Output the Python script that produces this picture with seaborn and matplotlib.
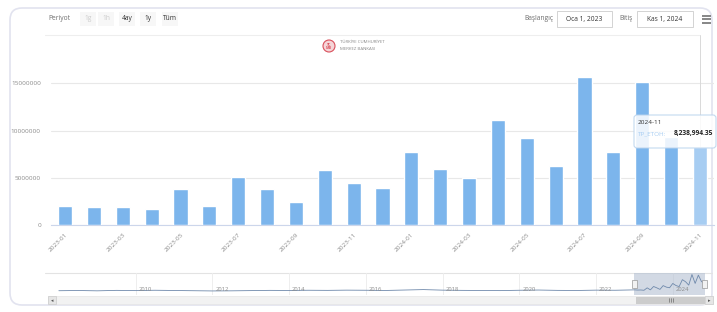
import numpy as np
import pandas as pd
import matplotlib
matplotlib.use("Agg")
import matplotlib.pyplot as plt
import matplotlib.transforms as mtransforms
from matplotlib.patches import FancyBboxPatch, Rectangle, Circle
import seaborn as sns

# =========================
# DATA
# =========================
months = [
    "2023-01", "2023-02", "2023-03", "2023-04", "2023-05", "2023-06",
    "2023-07", "2023-08", "2023-09", "2023-10", "2023-11", "2023-12",
    "2024-01", "2024-02", "2024-03", "2024-04", "2024-05", "2024-06",
    "2024-07", "2024-08", "2024-09", "2024-10", "2024-11",
]
values = [
    2050000, 1870000, 1950000, 1700000, 3850000, 2050000,
    5050000, 3850000, 2470000, 5830000, 4480000, 3920000,
    7730000, 5900000, 4950000, 11100000, 9250000, 6250000,
    15650000, 7770000, 15100000, 9300000, 8238994.35,
]
series_name = "TP_ETOH"
y_ticks = [0, 5000000, 10000000, 15000000]

# navigator: half-yearly history 2008-2022 (rough read of the small line)
nav_hist_start = 2008
nav_hist = [
    1300000, 1500000, 1200000, 1600000, 1400000, 1700000, 1500000, 1300000,
    1100000, 1200000, 1400000, 1600000, 1500000, 1700000, 1600000, 1800000,
    1700000, 1500000, 1900000, 2300000, 1800000, 1600000, 1500000, 1400000,
    1700000, 1900000, 1600000, 1500000, 1800000, 1700000,
]
nav_year_ticks = [2010, 2012, 2014, 2016, 2018, 2020, 2022, 2024]

range_buttons = ["1g", "1h", "4ay", "1y", "Tüm"]
start_label = "Oca 1, 2023"
end_label = "Kas 1, 2024"

df = pd.DataFrame({"month": months, "value": values})

# =========================
# FIGURE
# =========================
sns.set_theme(style="white")
plt.rcParams["font.family"] = ["Open Sans", "DejaVu Sans"]

W, H = 717, 312
fig = plt.figure(figsize=(W / 100, H / 100), dpi=100)
fig.patch.set_facecolor("white")

# background layer in pixel coords
bg = fig.add_axes([0, 0, 1, 1], zorder=-5)
bg.set_xlim(0, W)
bg.set_ylim(H, 0)
bg.axis("off")

bg.add_patch(FancyBboxPatch((10, 8), 702, 297, boxstyle="round,pad=0,rounding_size=12",
                            facecolor="white", edgecolor="#e2e3ef", lw=1.2))
bg.plot([45, 699], [35, 35], color="#eeeeee", lw=0.8)

# header: range selector
txt_grey = "#6e6e6e"
bg.text(48, 19, "Periyot", fontsize=4.8, color=txt_grey, va="center")
btn_x = [88, 106, 127, 148, 170]
for i, (lbl, bx) in enumerate(zip(range_buttons, btn_x)):
    disabled = i < 2
    bg.add_patch(Rectangle((bx - 8, 12), 16, 14, facecolor="#f7f7f7", edgecolor="none"))
    bg.text(bx, 19, lbl, fontsize=4.8, ha="center", va="center",
            color="#cccccc" if disabled else "#333333")

# header: date inputs
bg.text(553, 19, "Başlangıç", fontsize=4.8, color=txt_grey, ha="right", va="center")
bg.add_patch(Rectangle((557, 11), 55, 16, facecolor="white", edgecolor="#cccccc", lw=0.6))
bg.text(584.5, 19, start_label, fontsize=4.8, color="#333333", ha="center", va="center")
bg.text(626, 19, "Bitiş", fontsize=4.8, color=txt_grey, ha="center", va="center")
bg.add_patch(Rectangle((637, 11), 56, 16, facecolor="white", edgecolor="#cccccc", lw=0.6))
bg.text(665, 19, end_label, fontsize=4.8, color="#333333", ha="center", va="center")
for yy in (15.5, 19, 22.5):
    bg.plot([702, 711], [yy, yy], color="#666666", lw=1.1, solid_capstyle="butt")

# logo
bg.add_patch(Circle((329, 46), 6, facecolor="#f5d5d8", edgecolor="#d9505c", lw=0.8))
bg.text(329, 46.5, "TC\nMB", fontsize=2.6, color="#d9505c", ha="center", va="center",
        fontweight="bold", linespacing=0.8)
bg.text(340, 42, "TÜRKİYE CUMHURİYET", fontsize=3.2, color="#8a8a8a", va="center")
bg.text(340, 49, "MERKEZ BANKASI", fontsize=3.2, color="#8a8a8a", va="center")

# =========================
# MAIN BAR CHART
# =========================
ax_left, ax_right = 50.6, 714.4
ax_top, ax_bottom = 55, 225
ax = fig.add_axes([ax_left / W, 1 - ax_bottom / H,
                   (ax_right - ax_left) / W, (ax_bottom - ax_top) / H])
ax.patch.set_alpha(0)

sns.barplot(data=df, x="month", y="value", color="#7cb5ec", width=0.49,
            saturation=1, ax=ax, zorder=3)
# hovered bar lighter
ax.patches[-1].set_facecolor("#a7cdf2")

ax.set_ylim(0, 18000000)
ax.set_yticks(y_ticks)
ax.set_yticklabels([str(v) for v in y_ticks])
ax.set_xticks(range(0, len(months), 2))
ax.set_xticklabels(months[::2], rotation=45, ha="right", rotation_mode="anchor")
ax.tick_params(axis="y", labelsize=4.6, labelcolor="#8a8a8a", length=0, pad=7)
ax.tick_params(axis="x", labelsize=4.6, labelcolor="#8a8a8a", length=0, pad=5)
ax.set_xlabel("")
ax.set_ylabel("")
ax.yaxis.grid(True, color="#e8e8e8", lw=0.8, zorder=0)
for s in ("top", "right", "left"):
    ax.spines[s].set_visible(False)
ax.spines["bottom"].set_color("#ccd6eb")
ax.spines["bottom"].set_linewidth(0.8)

# crosshair on hovered point
ax.axvline(len(months) - 1, ymin=0, ymax=(ax_bottom - 35) / (ax_bottom - ax_top),
           color="#d9d9d9", lw=0.7, clip_on=False, zorder=1)

# =========================
# NAVIGATOR
# =========================
nav_l, nav_r, nav_t, nav_b = 55, 705, 273, 295
nav = fig.add_axes([nav_l / W, 1 - nav_b / H, (nav_r - nav_l) / W, (nav_b - nav_t) / H])
nav.patch.set_alpha(0)
hist_x = [nav_hist_start + 0.5 * i for i in range(len(nav_hist))]
recent_x = [2023 + i / 12 for i in range(len(values))]
nav_df = pd.DataFrame({"t": hist_x + recent_x, "v": nav_hist + values})
sns.lineplot(data=nav_df, x="t", y="v", color="#6f89ab", lw=0.6, ax=nav, zorder=3)
nav.set_xlim(2007.9, 2024.84)
nav.set_ylim(-2500000, 17000000)
nav.axvspan(recent_x[0], recent_x[-1], color="#b4c0d3", alpha=0.6, zorder=2, lw=0)
for yr in nav_year_ticks:
    nav.axvline(yr, color="#eeeeee", lw=0.7, zorder=1)
    nav.annotate(str(yr), (yr, 0.24), xycoords=("data", "axes fraction"),
                 xytext=(3, 0), textcoords="offset pixels", fontsize=4.2,
                 color="#8a8a8a", va="center", ha="left", zorder=4)
blend = mtransforms.blended_transform_factory(nav.transData, nav.transAxes)
for hx in (recent_x[0], recent_x[-1]):
    nav.add_patch(Rectangle((hx - 0.06, 0.3), 0.12, 0.4, transform=blend,
                            facecolor="#f2f2f2", edgecolor="#999999", lw=0.5, zorder=5, clip_on=False))
nav.axis("off")
bg.plot([45, 712], [272.5, 272.5], color="#e3e3e3", lw=0.8)

# scrollbar
bg.add_patch(Rectangle((48, 296), 665, 8, facecolor="#f2f2f2", edgecolor="#e6e6e6", lw=0.5))
bg.add_patch(Rectangle((48, 296), 8, 8, facecolor="#e6e6e6", edgecolor="#cccccc", lw=0.5))
bg.text(52, 300.3, "◂", fontsize=3.5, color="#555555", ha="center", va="center")
bg.add_patch(Rectangle((705, 296), 8, 8, facecolor="#e6e6e6", edgecolor="#cccccc", lw=0.5))
bg.text(709, 300.3, "▸", fontsize=3.5, color="#555555", ha="center", va="center")
bg.add_patch(Rectangle((636, 296.5), 69, 7, facecolor="#cccccc", edgecolor="none"))
for gx in (668.5, 670.5, 672.5):
    bg.plot([gx, gx], [298, 302], color="#555555", lw=0.4)

# =========================
# TOOLTIP
# =========================
fg = fig.add_axes([0, 0, 1, 1], zorder=10)
fg.set_xlim(0, W)
fg.set_ylim(H, 0)
fg.axis("off")
fg.add_patch(FancyBboxPatch((634, 115), 82, 33, boxstyle="round,pad=0,rounding_size=3",
                            facecolor="white", alpha=0.85, edgecolor="#b9d3ee", lw=0.8))
fg.text(638, 123, months[-1], fontsize=4.6, color="#333333", va="center")
fg.text(638, 134, series_name + ":", fontsize=4.6, color="#a7cdf2", va="center")
fg.text(713, 134, f"{values[-1]:,.2f}", fontsize=4.8, color="#222222", fontweight="bold",
        va="center", ha="right")

fig.savefig("out.png", dpi=100)
